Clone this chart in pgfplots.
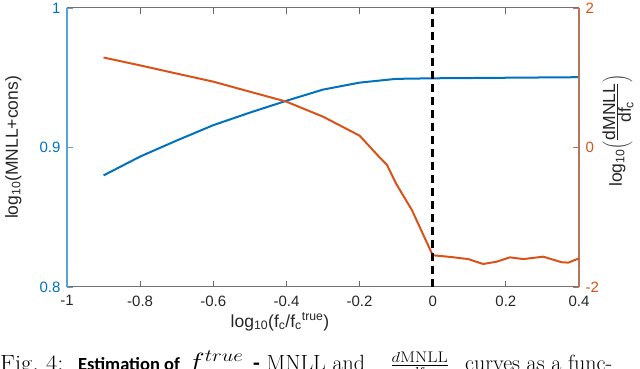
\documentclass[border=0pt]{standalone}
\usepackage{pgfplots}
\pgfplotsset{compat=1.18}
\usepackage{fontspec}
\setsansfont{Liberation Sans}
\newfontfamily\capsans{Carlito}

\definecolor{mblue}{rgb}{0,0.447,0.741}
\definecolor{morange}{rgb}{0.85,0.325,0.098}
\definecolor{mgray}{rgb}{0.15,0.15,0.15}

\newcommand{\tickfont}{\sffamily\fontsize{15}{17}\selectfont}
\newcommand{\labfont}{\sffamily\fontsize{17.5}{20}\selectfont}

\pgfplotsset{
  figaxis/.style={
    scale only axis,
    width=512pt, height=279pt,
    at={(67pt,82pt)}, anchor=south west,
    xmin=-1, xmax=0.4,
    tick align=inside,
    major tick length=6pt,
  }
}

\begin{document}
\begin{tikzpicture}
\useasboundingbox (0,0) rectangle (640pt,369pt);
\clip (0,0) rectangle (640pt,369pt);

\begin{axis}[
  figaxis,
  ymin=0.8, ymax=1,
  axis x line=box, axis y line*=left,
  xtick={-1,-0.8,-0.6,-0.4,-0.2,0,0.2,0.4},
  xticklabels={-1,-0.8,-0.6,-0.4,-0.2,0,0.2,0.4},
  xtick pos=both,
  ytick={0.8,0.9,1},
  yticklabels={0.8,0.9,1},
  x axis line style={black!55, line width=1pt, -},
  y axis line style={mblue!65, line width=1.2pt, -},
  xtick style={black!60, line width=0.8pt},
  ytick style={mblue!65, line width=0.8pt},
  xticklabel style={font=\tickfont, text=mgray, yshift=-5pt},
  yticklabel style={font=\tickfont, text=mblue, xshift=-3pt},
  xlabel={log\textsubscript{10}(f\textsubscript{c}/f\textsubscript{c}\textsuperscript{true})},
  ylabel={log\textsubscript{10}(MNLL+cons)},
  xlabel style={font=\labfont, at={(axis description cs:0.416,-0.125)}, anchor=center, text=mgray},
  ylabel style={font=\labfont, at={(axis description cs:-0.105,0.5)}, anchor=center, rotate=0, text=mgray},
]
\addplot[mblue, line width=2pt] coordinates {
  (-0.9,0.8800) (-0.8,0.8935) (-0.7,0.9050) (-0.6,0.9160) (-0.5,0.9250)
  (-0.4,0.9335) (-0.3,0.9415) (-0.2,0.9465) (-0.1,0.9492) (0,0.9496)
  (0.1,0.9498) (0.2,0.9500) (0.3,0.9502) (0.4,0.9504)
};
\end{axis}

\begin{axis}[
  figaxis,
  ymin=-2, ymax=2,
  axis x line=none, axis y line*=right,
  ytick={-2,0,2},
  yticklabels={-2,0,2},
  y axis line style={morange!70!black!70, line width=1.2pt, -},
  ytick style={morange!70!black!70, line width=0.8pt},
  yticklabel style={font=\tickfont, text=morange, xshift=3pt},
  ylabel={log\textsubscript{10}$\left(\frac{\mbox{dMNLL}}{\mbox{df\textsubscript{c}}}\right)$},
  ylabel style={font=\labfont, at={(axis description cs:1.076,0.56)}, anchor=center, rotate=0, text=mgray},
]
\addplot[morange, line width=2pt] coordinates {
  (-0.9,1.29) (-0.8,1.177) (-0.7,1.06) (-0.6,0.944) (-0.5,0.80)
  (-0.4,0.657) (-0.3,0.442) (-0.2,0.17) (-0.15,-0.115) (-0.125,-0.25)
  (-0.1,-0.52) (-0.057,-0.896) (0,-1.545) (0.05,-1.57) (0.097,-1.60)
  (0.138,-1.67) (0.175,-1.637) (0.211,-1.575) (0.248,-1.60) (0.302,-1.565)
  (0.353,-1.646) (0.371,-1.65) (0.4,-1.59)
};
\addplot[black, line width=2.5pt, dash pattern=on 8pt off 5pt] coordinates {(0,-2) (0,2)};
\end{axis}

% caption fragment below the chart (cut by the lower edge)
\begin{scope}[every node/.style={anchor=base west, inner sep=0, font=\fontsize{22}{26}\selectfont}]
\node[xscale=1.12, transform shape] at (0pt,-1.5pt) {Fig.~4:};
\node[font=\capsans\bfseries\fontsize{18.5}{22}\selectfont] at (78pt,-1.5pt) {Estimation of};
\node[font=\fontsize{23}{26}\selectfont, xscale=1.2, transform shape] at (187pt,-1.5pt) {$f^{true}$};
\node at (253pt,-1.5pt) {{\capsans\bfseries -} MNLL and};
\node[xscale=1.15, transform shape] at (390pt,-1.5pt) {$\frac{d\mathrm{MNLL}}{df_c}$};
\node at (465pt,-1.5pt) {curves as a func-};
\end{scope}
\end{tikzpicture}
\end{document}
